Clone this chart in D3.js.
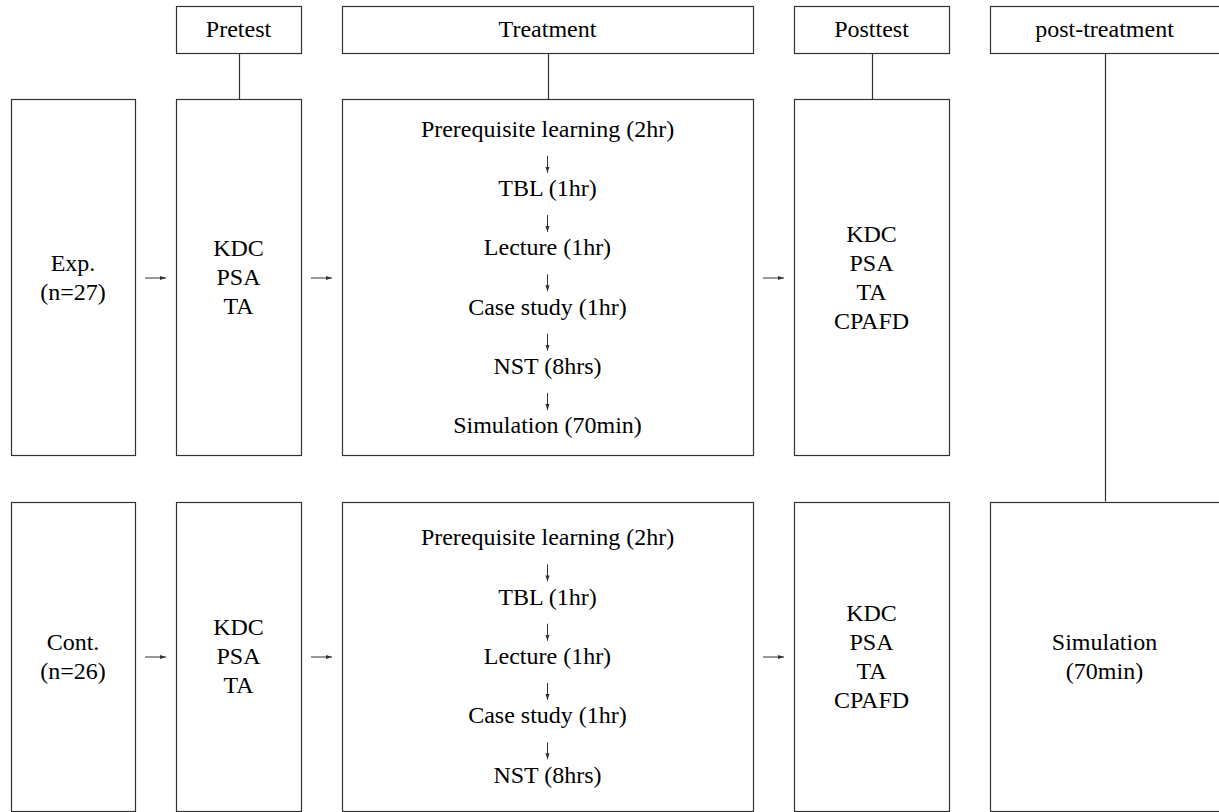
<!DOCTYPE html>
<html>
<head>
<meta charset="utf-8">
<script src="https://cdn.jsdelivr.net/npm/d3@7"></script>
<style>
  html, body { margin: 0; padding: 0; background: #fff; }
  svg { display: block; }
</style>
</head>
<body>
<svg id="chart" width="1219" height="812"></svg>
<script>
// ---------- DATA ----------
const phases = ["Pretest", "Treatment", "Posttest", "post-treatment"];
const groupNames = ["Exp.", "Cont."];
const groupSizes = [27, 26];
const pretestMeasures = [["KDC", "PSA", "TA"], ["KDC", "PSA", "TA"]];
const treatmentSteps = [
  ["Prerequisite learning (2hr)", "TBL (1hr)", "Lecture (1hr)", "Case study (1hr)", "NST (8hrs)", "Simulation (70min)"],
  ["Prerequisite learning (2hr)", "TBL (1hr)", "Lecture (1hr)", "Case study (1hr)", "NST (8hrs)"]
];
const posttestMeasures = [["KDC", "PSA", "TA", "CPAFD"], ["KDC", "PSA", "TA", "CPAFD"]];
const postTreatmentActs = [[], ["Simulation", "(70min)"]];

// ---------- LAYOUT ----------
const colEdges = [[11, 135], [176, 301], [342, 753], [794, 949], [990, 1226]]; // group, pretest, treatment, posttest, post-treatment
const headerBand = [5.5, 52];
const rowBands = [[99, 455], [501.5, 810.5]];
const fontSize = 24;
const lineGap = 29;     // stacked measure lines
const stepGap = 59.3;   // treatment steps
const halfCap = 8;
const stroke = "#333";

const svg = d3.select("#chart");
const defs = svg.append("defs");
defs.append("marker")
  .attr("id", "ah")
  .attr("viewBox", "0 0 10 10")
  .attr("refX", 10).attr("refY", 5)
  .attr("markerWidth", 6).attr("markerHeight", 6)
  .attr("markerUnits", "userSpaceOnUse")
  .attr("orient", "auto")
  .append("path").attr("d", "M0,1.5 L10,5 L0,8.5 Z").attr("fill", stroke);

const xCol = d3.scaleOrdinal().domain(d3.range(colEdges.length)).range(colEdges);
const yRow = d3.scaleOrdinal().domain(d3.range(rowBands.length)).range(rowBands);

function box(x0, x1, y0, y1) {
  svg.append("rect")
    .attr("x", Math.round(x0) + 0.5).attr("y", Math.round(y0) + 0.5)
    .attr("width", Math.round(x1 - x0)).attr("height", Math.round(y1 - y0))
    .attr("fill", "#fff").attr("stroke", stroke).attr("stroke-width", 1.2);
}
function textStack(lines, cx, cy, gap) {
  const n = lines.length;
  lines.forEach((d, i) => {
    svg.append("text")
      .attr("x", cx)
      .attr("y", cy + (i - (n - 1) / 2) * gap + halfCap)
      .attr("text-anchor", "middle")
      .style("font-family", "Liberation Serif")
      .attr("font-size", fontSize)
      .text(d);
  });
}
function arrow(x1, y1, x2, y2) {
  svg.append("line")
    .attr("x1", x1).attr("y1", y1).attr("x2", x2).attr("y2", y2)
    .attr("stroke", stroke).attr("stroke-width", 1)
    .attr("marker-end", "url(#ah)");
}
function vline(x, y0, y1) {
  svg.append("line")
    .attr("x1", Math.round(x) + 0.5).attr("x2", Math.round(x) + 0.5)
    .attr("y1", y0).attr("y2", y1)
    .attr("stroke", stroke).attr("stroke-width", 1.2);
}

// header boxes + connectors
phases.forEach((p, i) => {
  const [x0, x1] = xCol(i + 1);
  box(x0, x1, headerBand[0], headerBand[1]);
  const cx = i === 3 ? (x0 + 1219) / 2 : (x0 + x1) / 2;
  textStack([p], cx, (headerBand[0] + headerBand[1]) / 2, lineGap);
  const targetRow = i === 3 ? 1 : 0;
  vline(cx, headerBand[1] + 1, yRow(targetRow)[0]);
});

// rows
groupNames.forEach((g, r) => {
  const [y0, y1] = yRow(r);
  const cy = (y0 + y1) / 2;
  // group
  let [a, b] = xCol(0);
  box(a, b, y0, y1);
  textStack([g, `(n=${groupSizes[r]})`], (a + b) / 2, cy, lineGap);
  // pretest
  [a, b] = xCol(1);
  box(a, b, y0, y1);
  textStack(pretestMeasures[r], (a + b) / 2, cy, lineGap);
  // treatment
  [a, b] = xCol(2);
  box(a, b, y0, y1);
  const steps = treatmentSteps[r];
  const tcx = (a + b) / 2;
  textStack(steps, tcx, cy, stepGap);
  const n = steps.length;
  for (let i = 0; i < n - 1; i++) {
    const base = cy + (i - (n - 1) / 2) * stepGap + halfCap;
    arrow(tcx, base + 19, tcx, base + 36);
  }
  // posttest
  [a, b] = xCol(3);
  box(a, b, y0, y1);
  textStack(posttestMeasures[r], (a + b) / 2, cy, lineGap);
  // post-treatment (only where present)
  if (postTreatmentActs[r].length) {
    [a, b] = xCol(4);
    box(a, b, y0, y1);
    textStack(postTreatmentActs[r], (a + 1219) / 2, cy, lineGap);
  }
  // horizontal arrows between the first four columns
  for (let c = 0; c < 3; c++) {
    const left = xCol(c)[1], right = xCol(c + 1)[0];
    const mid = (left + right) / 2;
    arrow(mid - 10.5, cy + 1, mid + 10.5, cy + 1);
  }
});
</script>
</body>
</html>
